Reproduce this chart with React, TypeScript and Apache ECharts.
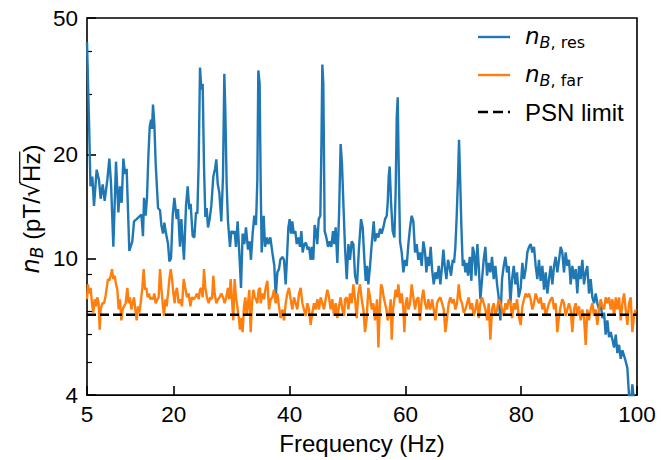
import React, { useEffect, useRef } from 'react';
import * as echarts from 'echarts';

// ---- data ----
const resFreq = [
  5.0, 5.35, 5.6, 5.92, 6.21, 6.67, 7.07, 7.36, 7.71, 8.05, 8.51, 8.86, 9.15, 9.55, 10.01, 10.42, 10.7, 10.99, 11.28, 11.57, 11.85, 12.31, 12.83, 13.12, 13.58, 13.98, 14.39, 14.67, 14.85, 15.13, 15.36, 15.6, 15.83, 16.06, 16.23, 16.4, 16.63, 16.86, 17.27, 17.61, 17.84, 18.13, 18.36, 18.65, 19.0, 19.23, 19.51, 19.8, 20.09,
  20.49, 20.72, 21.06, 21.29, 21.75, 22.1, 22.39, 22.67, 22.9, 23.25, 23.54, 23.83, 24.06, 24.29, 24.52, 24.75, 24.98, 25.21, 25.44, 25.67, 25.9, 26.19, 26.47, 26.82, 27.11, 27.34, 27.57, 27.86, 28.2, 28.49, 28.72, 28.89, 29.12, 29.35, 29.7, 29.93, 30.27, 30.5, 30.73, 31.02, 31.37, 31.6, 31.88, 32.17, 32.46, 32.81, 33.09, 33.32, 33.61, 33.9, 34.19, 34.42, 34.59, 34.82,
  35.0, 35.17, 35.52, 35.75, 36.09, 36.32, 36.67, 37.01, 37.36, 37.59, 37.88, 38.16, 38.39, 38.74, 39.03, 39.32, 39.55, 39.78, 40.01, 40.24, 40.47, 40.7, 40.99, 41.22, 41.5, 41.79, 42.02, 42.25, 42.54, 42.83, 43.12, 43.35, 43.63, 43.86, 44.09, 44.32, 44.55, 44.78, 45.02, 45.3, 45.48, 45.65, 45.82, 46.05, 46.34, 46.63, 46.91, 47.2, 47.49, 47.72, 47.95, 48.24, 48.53, 48.81, 49.04, 49.28, 49.56,
  49.86, 50.15, 50.43, 50.72, 51.01, 51.3, 51.64, 51.99, 52.33, 52.62, 52.91, 53.14, 53.37, 53.6, 53.89, 54.18, 54.52, 54.75, 55.04, 55.33, 55.62, 55.9, 56.19, 56.48, 56.77, 56.94, 57.11, 57.28, 57.52, 57.8, 58.09, 58.32, 58.5, 58.67, 58.84, 59.07, 59.36, 59.65, 59.93, 60.22, 60.51, 60.8, 61.08, 61.37, 61.66, 61.95, 62.24, 62.52, 62.81, 63.1, 63.39, 63.62, 63.85, 64.08, 64.37,
  64.6, 64.89, 65.18, 65.46, 65.75, 66.04, 66.33, 66.56, 66.79, 67.08, 67.36, 67.59, 67.88, 68.17, 68.4, 68.63, 68.86, 69.09, 69.26, 69.44, 69.67, 69.9, 70.13, 70.36, 70.59, 70.82, 71.11, 71.39, 71.62, 71.85, 72.14, 72.43, 72.66, 72.95, 73.24, 73.52, 73.81, 74.1, 74.39, 74.67, 74.96, 75.25, 75.54, 75.83, 76.11, 76.4, 76.69, 76.98, 77.27, 77.55, 77.84, 78.13, 78.42, 78.71, 78.99, 79.28, 79.57,
  79.91, 80.2, 80.48, 80.77, 81.06, 81.35, 81.63, 81.92, 82.21, 82.5, 82.79, 83.07, 83.36, 83.65, 83.94, 84.23, 84.51, 84.8, 85.09, 85.38, 85.67, 85.95, 86.24, 86.53, 86.82, 87.1, 87.39, 87.68, 87.97, 88.26, 88.54, 88.83, 89.12, 89.41, 89.69, 89.98, 90.27, 90.56, 90.85, 91.14, 91.42, 91.71, 92.0, 92.29, 92.58, 92.86, 93.15, 93.44, 93.73, 94.02, 94.31, 94.59, 94.88, 95.17, 95.46, 95.75, 96.04, 96.33, 96.61, 96.9, 97.19, 97.48, 97.93, 98.33, 98.62, 98.9, 99.2, 99.5, 99.8, 100.0,
];
const resValue = [
  42.5, 25.0, 16.2, 17.3, 14.2, 18.1, 16.9, 14.9, 16.4, 14.7, 16.9, 19.5, 16.5, 10.8, 19.1, 13.6, 16.2, 14.5, 19.5, 17.6, 18.2, 10.5, 11.2, 12.8, 13.0, 13.2, 13.4, 11.6, 15.0, 13.3, 15.0, 19.8, 24.1, 25.3, 23.8, 28.0, 24.6, 18.9, 14.0, 13.8, 12.5, 11.8, 12.7, 11.8, 11.0, 9.8, 10.0, 13.3, 15.0,
  13.0, 13.9, 10.8, 13.0, 9.9, 14.2, 16.2, 13.9, 14.4, 11.6, 11.5, 13.6, 13.5, 18.9, 35.9, 31.0, 32.2, 18.5, 13.2, 14.0, 12.3, 13.0, 14.2, 17.3, 18.2, 19.4, 16.5, 15.5, 12.8, 17.3, 34.4, 27.0, 16.5, 12.8, 10.8, 12.0, 11.8, 12.0, 10.8, 12.8, 9.9, 8.2, 11.8, 11.0, 12.3, 10.6, 11.2, 9.9, 11.8, 13.3, 12.5, 16.9, 35.2, 32.2,
  16.5, 10.4, 13.3, 10.8, 11.5, 11.0, 11.5, 10.4, 9.5, 7.7, 9.1, 9.3, 9.9, 10.1, 9.9, 8.4, 10.1, 12.3, 13.0, 11.8, 12.8, 11.8, 12.0, 11.0, 11.5, 10.8, 12.0, 10.4, 11.0, 11.1, 10.6, 10.8, 9.9, 10.8, 9.9, 12.5, 12.0, 11.0, 13.0, 13.3, 20.6, 36.6, 32.2, 12.0, 11.5, 10.8, 11.2, 10.8, 12.0, 11.0, 12.3, 9.7, 13.3, 21.5, 18.9, 14.5, 10.8,
  8.7, 11.0, 9.9, 11.2, 11.0, 8.9, 8.4, 10.8, 13.0, 12.3, 9.9, 8.6, 9.5, 8.4, 9.5, 11.0, 12.8, 11.2, 11.8, 11.5, 12.2, 11.8, 12.3, 13.0, 13.3, 14.5, 17.3, 18.5, 14.5, 12.0, 11.5, 15.9, 25.8, 29.4, 18.5, 11.2, 10.4, 9.1, 9.9, 9.5, 11.0, 12.3, 13.3, 12.8, 10.4, 11.0, 9.9, 10.4, 9.5, 11.2, 10.4, 9.1, 10.1, 9.5, 10.8,
  9.3, 8.4, 9.1, 8.7, 9.5, 8.4, 9.5, 10.6, 9.5, 8.7, 9.9, 9.5, 8.9, 9.9, 9.7, 10.8, 13.3, 17.3, 22.1, 17.3, 12.3, 9.5, 9.9, 9.1, 9.7, 8.9, 10.1, 8.6, 10.8, 10.4, 8.9, 11.0, 9.5, 7.6, 8.7, 9.9, 10.8, 8.9, 9.7, 9.1, 10.1, 8.7, 9.5, 8.4, 7.7, 6.6, 8.7, 9.5, 10.1, 9.1, 9.5, 7.4, 8.7, 9.5, 8.4, 9.1, 7.7,
  8.2, 9.7, 8.7, 9.3, 10.4, 10.8, 11.0, 10.4, 10.8, 9.5, 8.7, 9.9, 8.6, 9.5, 8.1, 9.1, 7.9, 8.7, 9.5, 8.4, 9.5, 10.1, 9.1, 9.9, 10.8, 10.4, 9.1, 10.4, 9.5, 9.9, 8.4, 9.5, 8.7, 9.3, 7.9, 9.5, 8.7, 9.9, 8.4, 9.1, 9.5, 7.9, 8.7, 7.7, 7.4, 7.9, 7.4, 7.1, 7.4, 6.7, 6.95, 6.0, 6.6, 5.9, 6.1, 5.8, 5.5, 6.0, 5.3, 5.6, 5.1, 5.4, 5.1, 4.8, 4.0, 3.7, 4.3, 3.8, 3.6, 3.9,
];

const farFreq = [
  5.0, 5.17, 5.4, 5.63, 5.86, 6.09, 6.32, 6.55, 6.78, 7.01, 7.19, 7.36, 7.65, 7.94, 8.17, 8.4, 8.63, 8.86, 9.09, 9.32, 9.55, 9.78, 10.01, 10.24, 10.47, 10.7, 10.93, 11.16, 11.39, 11.68, 11.97, 12.2, 12.43, 12.66, 12.89, 13.12, 13.35, 13.58, 13.81, 14.04, 14.27, 14.56, 14.79, 15.02, 15.25, 15.48, 15.71, 15.94, 16.17, 16.4, 16.63, 16.86, 17.15, 17.38, 17.61, 17.84, 18.07, 18.3, 18.53, 18.76, 19.0, 19.23, 19.46, 19.69, 19.92, 20.15,
  20.26, 20.54, 20.83, 21.12, 21.41, 21.7, 21.98, 22.27, 22.56, 22.85, 23.13, 23.42, 23.71, 24.0, 24.29, 24.52, 24.75, 24.98, 25.21, 25.44, 25.72, 26.01, 26.3, 26.59, 26.82, 27.05, 27.34, 27.62, 27.91, 28.2, 28.49, 28.78, 29.06, 29.35, 29.58, 29.81, 30.04, 30.27, 30.5, 30.73, 30.96, 31.19, 31.42, 31.65, 31.88, 32.12, 32.35, 32.58, 32.81, 33.04, 33.27, 33.5, 33.73, 33.96, 34.19, 34.42, 34.65, 34.88,
  35.0, 35.29, 35.57, 35.86, 36.15, 36.44, 36.73, 37.01, 37.3, 37.59, 37.88, 38.16, 38.45, 38.74, 39.03, 39.32, 39.6, 39.89, 40.18, 40.47, 40.76, 41.04, 41.33, 41.62, 41.91, 42.2, 42.48, 42.77, 43.06, 43.35, 43.63, 43.92, 44.21, 44.5, 44.78, 45.07, 45.36, 45.65, 45.94, 46.22, 46.51, 46.8, 47.09, 47.38, 47.66, 47.95, 48.24, 48.53, 48.81, 49.1, 49.39,
  49.57, 49.86, 50.15, 50.43, 50.72, 51.01, 51.3, 51.58, 51.87, 52.16, 52.45, 52.74, 53.02, 53.31, 53.6, 53.89, 54.18, 54.46, 54.75, 55.1, 55.33, 55.56, 55.79, 56.02, 56.25, 56.48, 56.71, 56.94, 57.17, 57.46, 57.63, 57.86, 58.09, 58.32, 58.55, 58.78, 59.07, 59.36, 59.65, 59.82, 60.05, 60.28, 60.51, 60.8, 61.08, 61.37, 61.66, 61.95, 62.24, 62.52, 62.81, 63.1, 63.39, 63.68, 63.96, 64.25, 64.54,
  64.6, 64.89, 65.18, 65.46, 65.75, 66.04, 66.33, 66.62, 66.9, 67.19, 67.48, 67.77, 68.05, 68.34, 68.63, 68.92, 69.21, 69.49, 69.78, 70.07, 70.36, 70.64, 70.93, 71.22, 71.51, 71.8, 72.08, 72.37, 72.66, 72.95, 73.24, 73.52, 73.81, 74.1, 74.39, 74.67, 74.96, 75.25, 75.54, 75.83, 76.11, 76.4, 76.69, 76.98, 77.27, 77.55, 77.84, 78.13, 78.42, 78.71, 78.99, 79.28, 79.57,
  79.91, 80.2, 80.48, 80.77, 81.06, 81.35, 81.63, 81.92, 82.21, 82.5, 82.79, 83.07, 83.36, 83.65, 83.94, 84.23, 84.51, 84.8, 85.09, 85.38, 85.67, 85.95, 86.24, 86.53, 86.82, 87.1, 87.39, 87.68, 87.97, 88.26, 88.54, 88.83, 89.12, 89.41, 89.69, 89.98, 90.27, 90.56, 90.85, 91.14, 91.42, 91.71, 92.0, 92.29, 92.58, 92.86, 93.15, 93.44, 93.73, 94.02, 94.31, 94.59, 94.88, 95.17, 95.46, 95.75, 96.04, 96.33, 96.61, 96.9, 97.19, 97.48, 97.77, 98.05, 98.34, 98.62, 98.91, 99.2, 99.48, 99.77,
];
const farValue = [
  7.6, 8.4, 7.9, 8.2, 7.4, 6.95, 7.6, 7.25, 7.7, 7.4, 6.2, 7.1, 7.4, 7.4, 7.7, 8.2, 8.7, 8.6, 8.9, 9.3, 8.7, 8.9, 8.4, 8.1, 7.1, 7.6, 6.6, 7.1, 7.25, 7.4, 8.2, 7.4, 7.7, 7.1, 7.4, 7.7, 7.1, 6.6, 7.25, 6.95, 7.4, 8.2, 9.3, 8.1, 8.2, 7.7, 7.9, 7.6, 7.7, 7.6, 7.9, 7.4, 7.6, 7.7, 9.3, 8.2, 7.4, 6.8, 7.6, 7.25, 7.9, 8.7, 9.3, 8.7, 7.9, 7.4,
  7.9, 8.2, 7.4, 7.6, 7.25, 8.7, 8.2, 7.7, 7.9, 7.25, 7.7, 7.6, 7.7, 7.9, 7.6, 8.1, 8.2, 7.7, 9.3, 8.2, 7.7, 7.4, 7.7, 7.6, 8.9, 7.9, 7.4, 7.6, 7.7, 7.9, 7.7, 7.4, 7.7, 8.2, 7.6, 8.7, 7.6, 6.6, 8.7, 7.7, 7.25, 6.8, 6.2, 6.7, 6.1, 7.25, 7.7, 6.8, 7.4, 8.1, 6.1, 7.4, 8.1, 7.7, 7.6, 7.4, 8.1, 8.2,
  7.4, 7.9, 7.6, 8.2, 8.6, 7.1, 7.6, 7.7, 8.1, 7.4, 7.9, 7.25, 6.7, 7.1, 6.6, 7.4, 7.9, 8.2, 7.6, 7.1, 7.7, 7.4, 7.1, 7.9, 8.2, 7.4, 7.1, 6.8, 7.4, 7.1, 6.4, 6.95, 7.4, 7.1, 7.6, 7.1, 7.7, 7.4, 7.1, 7.6, 8.1, 7.7, 7.1, 7.6, 6.8, 7.4, 6.7, 7.25, 7.7, 7.1, 6.8,
  7.6, 7.7, 7.1, 7.9, 7.4, 8.4, 7.6, 6.7, 7.9, 8.4, 7.6, 7.1, 6.1, 6.7, 8.2, 7.7, 7.1, 7.4, 6.6, 7.6, 5.5, 7.1, 8.4, 8.2, 7.7, 7.4, 7.1, 6.6, 6.8, 7.6, 5.8, 7.1, 7.6, 8.1, 7.7, 8.4, 7.4, 7.9, 7.1, 6.1, 7.4, 7.7, 7.1, 7.4, 8.4, 7.7, 7.1, 7.6, 7.7, 6.6, 7.6, 8.1, 7.4, 7.1, 7.6, 7.1, 7.4,
  7.6, 7.1, 6.6, 7.4, 7.6, 7.7, 7.4, 7.1, 6.1, 6.7, 7.4, 7.7, 7.4, 7.6, 7.1, 7.4, 8.4, 7.6, 7.4, 6.95, 7.1, 7.4, 7.7, 7.1, 7.4, 6.8, 7.1, 7.6, 6.7, 7.4, 7.7, 7.4, 7.1, 6.6, 7.4, 5.8, 7.1, 7.4, 6.8, 7.1, 7.6, 7.4, 7.1, 6.8, 7.4, 7.1, 7.6, 7.4, 6.7, 7.4, 7.1, 7.6, 6.8,
  6.4, 7.25, 7.6, 7.9, 7.7, 7.9, 7.6, 7.1, 7.4, 7.9, 7.6, 7.4, 7.7, 7.1, 7.4, 6.8, 7.1, 7.4, 7.6, 7.7, 7.1, 7.4, 6.1, 6.8, 7.25, 7.6, 7.4, 6.8, 7.1, 7.4, 7.1, 6.1, 7.1, 7.4, 6.8, 7.25, 6.6, 7.1, 6.7, 5.6, 7.1, 6.6, 7.1, 7.4, 6.8, 7.1, 6.4, 7.1, 7.6, 7.25, 7.1, 7.7, 7.4, 7.7, 7.1, 7.6, 6.8, 7.7, 7.1, 7.7, 6.6, 7.4, 7.9, 7.1, 6.4, 7.4, 7.7, 6.1, 6.8, 7.1,
];

const psnFreq = [5, 100];
const psnValue = [6.85, 6.85];

const xTicks = [5, 20, 40, 60, 80, 100];
const yMajorTicks = [4, 10, 20, 50];
const yMinorTicks = [5, 6, 7, 8, 9, 30, 40];

const BLUE = '#1f77b4';
const ORANGE = '#ff7f0e';
const SANS = '"Liberation Sans", Arial, sans-serif';
const MATH = '"DejaVu Sans", sans-serif';

const SOLID_ICON = 'path://M0,0H32V2.4H0Z';
const DASH_ICON = 'path://M0,0H10V2.4H0Z M15,0H25V2.4H15Z M30,0H32V2.4H30Z';

const zip = (a: number[], b: number[]) => a.map((x, i) => [x, b[i]]);

export default function App() {
  const ref = useRef<HTMLDivElement>(null);

  useEffect(() => {
    document.body.style.margin = '0';
    const el = ref.current!;
    const chart = echarts.init(el, null, { renderer: 'svg' });

    const canvas = document.createElement('canvas');
    const ctx = canvas.getContext('2d')!;
    const measure = (t: string, font: string) => {
      ctx.font = font;
      return ctx.measureText(t).width;
    };

    // ---- y axis label: n_B (pT/sqrt(Hz)) built from pieces ----
    const F = 24;
    const fN = `italic ${F}px ${MATH}`;
    const fB = `italic ${Math.round(F * 0.7)}px ${MATH}`;
    const fR = `${F}px ${SANS}`;
    const fSq = `${F}px ${MATH}`;
    const parts = [
      { t: 'n', font: fN, dy: 0 },
      { t: 'B', font: fB, dy: 6 },
      { t: ' (pT/', font: fR, dy: 0 },
      { t: '\u221A', font: fSq, dy: 0 },
      { t: 'Hz', font: fR, dy: 0 },
      { t: ')', font: fR, dy: 0 },
    ];
    const widths = parts.map((p) => measure(p.t, p.font));
    const total = widths.reduce((s, w) => s + w, 0);
    let cx = -total / 2;
    const children: any[] = [];
    let sqrtEnd = 0;
    let hzEnd = 0;
    parts.forEach((p, i) => {
      children.push({
        type: 'text',
        x: cx,
        y: p.dy,
        style: { text: p.t, font: p.font, fill: '#000', align: 'left', verticalAlign: 'middle' },
      });
      cx += widths[i];
      if (i === 3) sqrtEnd = cx;
      if (i === 4) hzEnd = cx;
    });
    children.push({
      type: 'line',
      shape: { x1: sqrtEnd - 1, y1: -F * 0.47, x2: hzEnd + 1, y2: -F * 0.47 },
      style: { stroke: '#000', lineWidth: 1.2 },
    });

    const legendRich = {
      n: { fontFamily: MATH, fontStyle: 'italic', fontSize: 23, color: '#000', verticalAlign: 'bottom', padding: [0, 0, 3, 10] },
      b: { fontFamily: MATH, fontStyle: 'italic', fontSize: 16, color: '#000', verticalAlign: 'bottom' },
      s: { fontFamily: MATH, fontSize: 16, color: '#000', verticalAlign: 'bottom' },
      p: { fontFamily: SANS, fontSize: 24, color: '#000', padding: [0, 0, 0, 10] },
    };

    const option: any = {
      animation: false,
      backgroundColor: '#fff',
      grid: {
        left: 87, right: 31, top: 18, bottom: 61,
        show: true, borderColor: '#000', borderWidth: 1.6, backgroundColor: 'transparent',
      },
      legend: {
        orient: 'vertical',
        left: 478,
        top: 24,
        padding: 0,
        itemWidth: 32,
        itemHeight: 2.4,
        itemGap: 12,
        data: [
          { name: 'res', icon: SOLID_ICON, itemStyle: { color: BLUE } },
          { name: 'far', icon: SOLID_ICON, itemStyle: { color: ORANGE } },
          { name: 'psn', icon: DASH_ICON, itemStyle: { color: '#000' } },
        ],
        formatter: (name: string) => {
          if (name === 'res') return '{n|n}{b|B}{s|, res}';
          if (name === 'far') return '{n|n}{b|B}{s|, far}';
          return '{p|PSN limit}';
        },
        textStyle: { color: '#000', fontSize: 22, fontFamily: SANS, rich: legendRich },
      },
      xAxis: {
        type: 'value',
        min: 5,
        max: 100,
        axisLine: { show: false },
        axisTick: { show: true, inside: true, length: 9, customValues: xTicks, lineStyle: { color: '#000', width: 1.6 } },
        axisLabel: { customValues: xTicks, color: '#000', fontSize: 22.5, fontFamily: SANS, margin: 8, formatter: (v: number) => String(v) },
        splitLine: { show: false },
        name: 'Frequency (Hz)',
        nameLocation: 'middle',
        nameGap: 30,
        nameTextStyle: { color: '#000', fontSize: 24, fontFamily: SANS },
      },
      yAxis: [
        {
          type: 'log',
          logBase: 10,
          min: 4,
          max: 50,
          axisLine: { show: false },
          axisTick: { show: true, inside: true, length: 9, customValues: yMajorTicks, lineStyle: { color: '#000', width: 1.6 } },
          axisLabel: { customValues: yMajorTicks, color: '#000', fontSize: 22.5, fontFamily: SANS, margin: 9, formatter: (v: number) => String(Math.round(v)) },
          splitLine: { show: false },
          minorTick: { show: false },
        },
        {
          type: 'log',
          logBase: 10,
          min: 4,
          max: 50,
          position: 'left',
          axisLine: { show: false },
          axisTick: { show: true, inside: true, length: 5, customValues: yMinorTicks, lineStyle: { color: '#000', width: 1.2 } },
          axisLabel: { show: false },
          splitLine: { show: false },
        },
      ],
      series: [
        {
          name: 'res', type: 'line', data: zip(resFreq, resValue), symbol: 'none', showSymbol: false,
          lineStyle: { color: BLUE, width: 2.4 }, itemStyle: { color: BLUE }, clip: true, z: 2,
        },
        {
          name: 'far', type: 'line', data: zip(farFreq, farValue), symbol: 'none', showSymbol: false,
          lineStyle: { color: ORANGE, width: 2.4 }, itemStyle: { color: ORANGE }, clip: true, z: 3,
        },
        {
          name: 'psn', type: 'line', data: zip(psnFreq, psnValue), symbol: 'none', showSymbol: false,
          lineStyle: { color: '#000', width: 2.4, type: [9, 4] }, itemStyle: { color: '#000' }, clip: true, z: 4,
        },
      ],
      graphic: [
        {
          type: 'group',
          x: 31,
          y: 209,
          rotation: Math.PI / 2,
          children,
        },
      ],
    };

    chart.setOption(option);
    return () => chart.dispose();
  }, []);

  return <div ref={ref} style={{ width: 668, height: 460 }} />;
}
